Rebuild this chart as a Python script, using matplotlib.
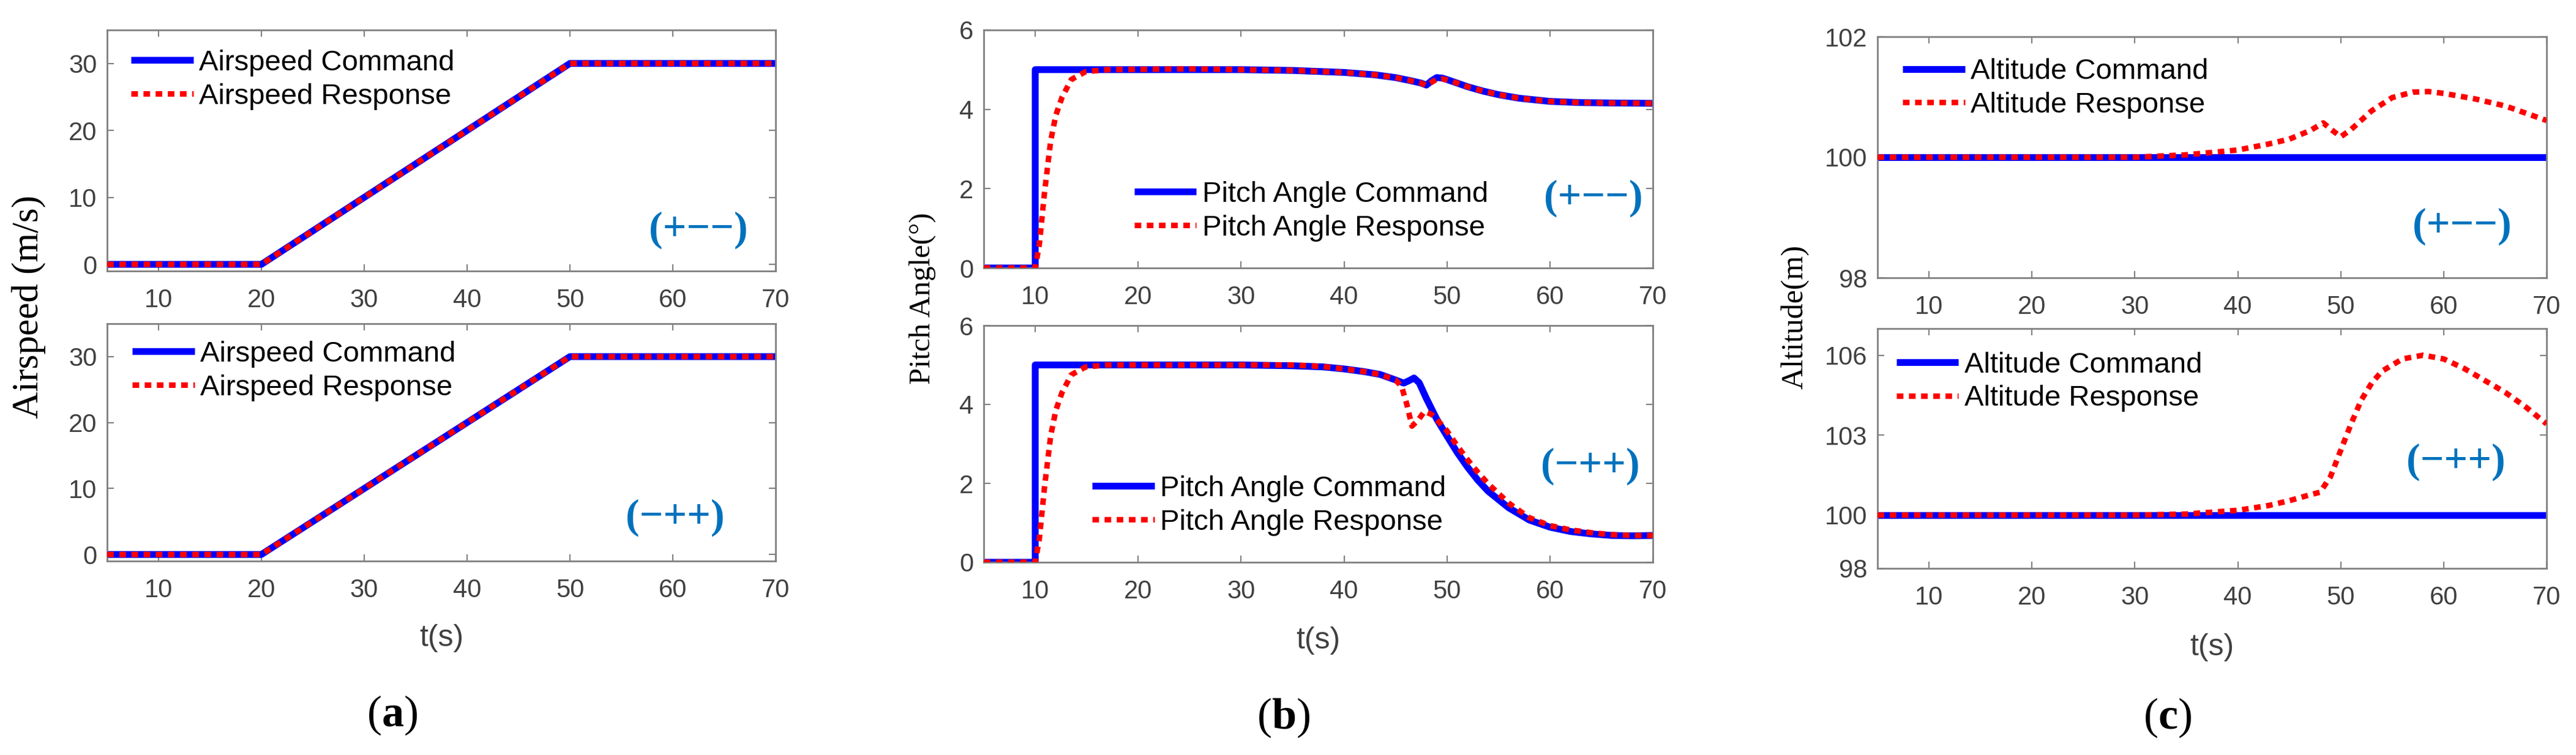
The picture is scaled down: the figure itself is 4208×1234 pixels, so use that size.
import numpy as np
import matplotlib
matplotlib.use("Agg")
import matplotlib.pyplot as plt

plt.rcParams["mathtext.fontset"] = "custom"
plt.rcParams["mathtext.bf"] = "Liberation Serif:bold"
plt.rcParams["mathtext.rm"] = "Liberation Serif"

W, H = 4208, 1234

# ---- data ----
# (a) airspeed, both cases
air_t = [5, 20, 50, 70]
air_cmd = [0, 0, 30, 30]
air_resp = [0, 0, 30, 30]

# (b) pitch angle, case (+--)
pitch1_cmd_t = [5, 10, 10, 20, 30, 35, 40, 43, 45, 46.5, 47.5, 48, 48.5, 49, 49.5,
                50, 51, 52, 53.5, 55, 57, 60, 63, 66, 70]
pitch1_cmd = [0, 0, 5, 5, 5, 4.98, 4.93, 4.87, 4.8, 4.72, 4.66, 4.61, 4.72, 4.8, 4.79,
              4.75, 4.66, 4.57, 4.46, 4.37, 4.28, 4.2, 4.17, 4.16, 4.15]
pitch1_resp_t = [5, 10, 10.4, 10.9, 11.5, 12, 12.6, 13.5, 14.9, 17, 25, 30, 35, 40,
                 43, 45, 46.5, 47.5, 48, 48.5, 49, 49.5, 50, 51, 52, 53.5, 55, 57,
                 60, 63, 66, 70]
pitch1_resp = [0, 0, 0.6, 1.9, 3.2, 3.85, 4.3, 4.75, 4.95, 5.0, 5.02, 5.0, 4.98, 4.93,
               4.87, 4.8, 4.72, 4.66, 4.6, 4.68, 4.76, 4.77, 4.74, 4.66, 4.57, 4.46,
               4.37, 4.28, 4.2, 4.17, 4.16, 4.15]

# (b) pitch angle, case (-++)
pitch2_cmd_t = [5, 10, 10, 20, 30, 35, 38, 40, 42, 43.5, 45, 45.8, 46.3, 46.8, 47.3,
                48, 49, 50, 51, 52, 53, 54, 56, 58, 60, 62, 64, 66, 68, 70]
pitch2_cmd = [0, 0, 5, 5, 5, 4.98, 4.95, 4.9, 4.83, 4.76, 4.62, 4.54, 4.6, 4.67, 4.55,
              4.15, 3.63, 3.2, 2.78, 2.41, 2.08, 1.8, 1.38, 1.07, 0.89, 0.78, 0.72,
              0.68, 0.67, 0.68]
pitch2_resp_t = [5, 10, 10.4, 10.9, 11.5, 12, 12.6, 13.5, 14.9, 17, 25, 30, 35, 38,
                 40, 42, 43.5, 45, 45.6, 46.1, 46.6, 47.2, 47.8, 48.5, 49, 50, 51, 52,
                 53, 54, 56, 58, 60, 62, 64, 66, 68, 70]
pitch2_resp = [0, 0, 0.6, 1.9, 3.2, 3.85, 4.3, 4.75, 4.95, 5.0, 5.0, 5.0, 5.0, 4.96,
               4.9, 4.83, 4.76, 4.62, 4.45, 4.0, 3.45, 3.6, 3.82, 3.75, 3.62, 3.33,
               2.95, 2.6, 2.28, 1.99, 1.5, 1.13, 0.93, 0.82, 0.75, 0.7, 0.68, 0.68]

# (c) altitude, case (+--)
alt1_cmd_t = [5, 70]
alt1_cmd = [100, 100]
alt1_resp_t = [5, 30, 35, 40, 43, 45, 47, 48.3, 49, 50, 51, 53, 55, 57, 58.5, 60,
               63, 66, 68, 70]
alt1_resp = [100, 100, 100.04, 100.12, 100.22, 100.3, 100.44, 100.57, 100.47, 100.34,
             100.46, 100.77, 100.99, 101.08, 101.09, 101.06, 100.97, 100.85, 100.73,
             100.61]

# (c) altitude, case (-++)
alt2_cmd_t = [5, 70]
alt2_cmd = [100, 100]
alt2_resp_t = [5, 30, 35, 40, 43, 45, 47, 48, 49, 50, 51, 52, 53, 54, 56, 58, 60,
               62, 64, 66, 68, 70]
alt2_resp = [100, 100, 100.04, 100.18, 100.36, 100.54, 100.76, 100.86, 101.44, 102.43,
             103.42, 104.32, 104.95, 105.4, 105.86, 106.0, 105.86, 105.5, 105.05,
             104.6, 104.05, 103.42]

xticks = [10, 20, 30, 40, 50, 60, 70]

BLUE = "#0000FF"
RED = "#FF0000"
TAG = "#0072BD"
GRAY = "#808080"
TICKCOL = "#404040"
SANS = "Liberation Sans"
SERIF = "Liberation Serif"


def px_axes(left, top, right, bottom):
    return [left / W, 1 - bottom / H, (right - left) / W, (bottom - top) / H]


fig = plt.figure(figsize=(W / 100, H / 100), dpi=100)
fig.patch.set_facecolor("white")


def panel(rect, t_cmd, y_cmd, t_resp, y_resp, ylim, yticks, labels, leg_anchor,
          tag, tag_xy):
    ax = fig.add_axes(px_axes(*rect))
    ax.plot(t_cmd, y_cmd, color=BLUE, lw=8, solid_capstyle="butt",
            label=labels[0], zorder=2)
    ax.plot(t_resp, y_resp, color=RED, lw=6.5, linestyle=(0, (1.2, 1.0)),
            dash_capstyle="butt", label=labels[1], zorder=3)
    ax.set_xlim(5, 70)
    ax.set_ylim(*ylim)
    ax.set_xticks(xticks)
    ax.set_yticks(yticks)
    for s in ax.spines.values():
        s.set_color(GRAY)
        s.set_linewidth(2)
    ax.tick_params(direction="in", length=8, width=1.5, color=GRAY,
                   top=True, right=True, labelsize=30, labelcolor=TICKCOL)
    ax.tick_params(axis="x", pad=20)
    ax.tick_params(axis="y", pad=12)
    for lab in ax.get_xticklabels() + ax.get_yticklabels():
        lab.set_fontfamily(SANS)
    ax.legend(loc="upper left", bbox_to_anchor=leg_anchor, frameon=False,
              prop={"family": SANS, "size": 34}, handlelength=2.15,
              handletextpad=0.2, labelspacing=0.23, borderpad=0,
              borderaxespad=0)
    ax.text(tag_xy[0], tag_xy[1], tag, color=TAG, fontsize=49, fontweight="bold",
            family=SERIF, ha="center", va="center")
    return ax


air_labels = ["Airspeed Command", "Airspeed Response"]
pitch_labels = ["Pitch Angle Command", "Pitch Angle Response"]
alt_labels = ["Altitude Command", "Altitude Response"]

tag_pmm = "(+\u2212\u2212)"
tag_mpp = "(\u2212++)"

# (a)
panel((175, 49, 1267, 443), air_t, air_cmd, air_t, air_resp, (-1, 35),
      [0, 10, 20, 30], air_labels, (0.036, 0.919), tag_pmm, (62.5, 5.1))
panel((175, 529, 1267, 917), air_t, air_cmd, air_t, air_resp, (-1, 35),
      [0, 10, 20, 30], air_labels, (0.038, 0.928), tag_mpp, (60.2, 5.6))

# (b)
panel((1607, 49, 2700, 438), pitch1_cmd_t, pitch1_cmd, pitch1_resp_t, pitch1_resp,
      (0, 6), [0, 2, 4, 6], pitch_labels, (0.225, 0.365), tag_pmm, (64.2, 1.76))
panel((1607, 532, 2700, 919), pitch2_cmd_t, pitch2_cmd, pitch2_resp_t, pitch2_resp,
      (0, 6), [0, 2, 4, 6], pitch_labels, (0.162, 0.367), tag_mpp, (63.9, 2.43))

# (c)
panel((3067, 60, 4160, 454), alt1_cmd_t, alt1_cmd, alt1_resp_t, alt1_resp,
      (98, 102), [98, 100, 102], alt_labels, (0.0375, 0.911), tag_pmm, (61.8, 98.85))
panel((3067, 537, 4160, 929), alt2_cmd_t, alt2_cmd, alt2_resp_t, alt2_resp,
      (98, 107), [98, 100, 103, 106], alt_labels, (0.028, 0.904), tag_mpp, (61.2, 101.98))

# shared labels
fig.text(47 / W, 1 - 502 / H, "Airspeed (m/s)", rotation=90, family=SERIF,
         fontsize=44, ha="center", va="center")
fig.text(1507 / W, 1 - 488 / H, "Pitch Angle(\u00b0)", rotation=90, family=SERIF,
         fontsize=35, ha="center", va="center")
fig.text(2932 / W, 1 - 518 / H, "Altitude(m)", rotation=90, family=SERIF,
         fontsize=36, ha="center", va="center")

for xc, yc in [(721, 1043), (2153, 1047), (3613, 1058)]:
    fig.text(xc / W, 1 - yc / H, "t(s)", family=SANS, fontsize=36,
             color=TICKCOL, ha="center", va="center")

for letter, xc, yc in [("a", 641, 1169), ("b", 2097, 1173), ("c", 3541, 1173)]:
    fig.text(xc / W, 1 - yc / H, "($\\mathbf{%s}$)" % letter, family=SERIF,
             fontsize=52, ha="center", va="center")

fig.savefig("out.png", dpi=100, facecolor="white")
